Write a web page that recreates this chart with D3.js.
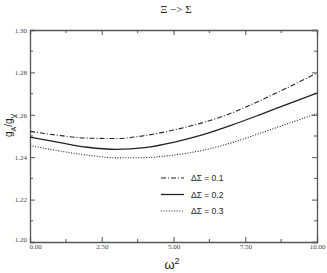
<!DOCTYPE html>
<html>
<head>
<meta charset="utf-8">
<script src="https://cdn.jsdelivr.net/npm/d3@7"></script>
<style>
  body { margin: 0; background: #fff; }
  svg { display: block; }
</style>
</head>
<body>
<div id="chart"></div>
<script>
// values
const omega2 = [0, 1, 2, 3, 4, 5, 6, 7, 8, 9, 10];
const dSigma01 = [1.2522, 1.2503, 1.2490, 1.2488, 1.2502, 1.2528, 1.2562, 1.2607, 1.2666, 1.2730, 1.2797];
const dSigma02 = [1.2495, 1.2470, 1.2447, 1.2437, 1.2445, 1.2470, 1.2505, 1.2550, 1.2600, 1.2652, 1.2703];
const dSigma03 = [1.2455, 1.2430, 1.2410, 1.2397, 1.2398, 1.2410, 1.2432, 1.2467, 1.2512, 1.2559, 1.2606];
const xTicks = [0, 2.5, 5, 7.5, 10];
const yTicks = [1.20, 1.22, 1.24, 1.26, 1.28, 1.30];
const legendLabels = ["ΔΣ = 0.1", "ΔΣ = 0.2", "ΔΣ = 0.3"];

const width = 327, height = 273;
const margin = {top: 30, right: 10, bottom: 31, left: 30};

const svg = d3.select("#chart").append("svg")
  .attr("width", width)
  .attr("height", height);

const x = d3.scaleLinear().domain([0, 10]).range([margin.left, width - margin.right]);
const y = d3.scaleLinear().domain([1.20, 1.30]).range([height - margin.bottom, margin.top]);

const axisColor = "#555";
const minorX = d3.range(1.25, 10, 2.5);
const minorY = d3.range(1.21, 1.30, 0.02);

// axes with inward ticks on all four sides
function styleAxis(g) {
  g.select(".domain").attr("stroke", axisColor).attr("stroke-width", 1.3);
  g.selectAll(".tick line").attr("stroke", axisColor);
  g.selectAll(".tick text")
    .attr("fill", "#444")
    .style("font-family", "'Liberation Serif', 'DejaVu Serif', serif")
    .style("font-size", "7px");
}

svg.append("g")
  .attr("transform", `translate(0,${y(1.20)})`)
  .call(d3.axisBottom(x).tickValues(xTicks).tickSize(-5).tickPadding(3).tickFormat(d3.format(".2f")))
  .call(styleAxis)
  .call(g => g.selectAll(".tick text").attr("dy", "0.5em"))
  .call(g => g.selectAll(".tick text").filter(d => d === 0).attr("text-anchor", "start").attr("x", -1));

svg.append("g")
  .attr("transform", `translate(0,${y(1.30)})`)
  .call(d3.axisTop(x).tickValues(xTicks).tickSize(-5).tickFormat(""))
  .call(styleAxis);

svg.append("g")
  .attr("transform", `translate(${x(0)},0)`)
  .call(d3.axisLeft(y).tickValues(yTicks).tickSize(-5).tickPadding(3).tickFormat(d3.format(".2f")))
  .call(styleAxis)
  .call(g => g.selectAll(".tick text").filter(d => d === 1.20).attr("dy", "-0.05em"));

svg.append("g")
  .attr("transform", `translate(${x(10)},0)`)
  .call(d3.axisRight(y).tickValues(yTicks).tickSize(-5).tickFormat(""))
  .call(styleAxis);

// minor ticks
[[y(1.20), -3], [y(1.30), 3]].forEach(([yy, len]) => {
  svg.append("g").selectAll("line").data(minorX).join("line")
    .attr("x1", d => x(d)).attr("x2", d => x(d))
    .attr("y1", yy).attr("y2", yy + len)
    .attr("stroke", axisColor);
});
[[x(0), 3], [x(10), -3]].forEach(([xx, len]) => {
  svg.append("g").selectAll("line").data(minorY).join("line")
    .attr("y1", d => y(d)).attr("y2", d => y(d))
    .attr("x1", xx).attr("x2", xx + len)
    .attr("stroke", axisColor);
});

// curves
const series = [
  {vals: dSigma01, dash: "5,2,1,2", w: 1.1},
  {vals: dSigma02, dash: null, w: 1.3},
  {vals: dSigma03, dash: "1,1.6", w: 1.1}
];

const line = d3.line()
  .x(d => x(d[0]))
  .y(d => y(d[1]))
  .curve(d3.curveMonotoneX);

series.forEach(s => {
  svg.append("path")
    .datum(omega2.map((w, i) => [w, s.vals[i]]))
    .attr("d", line)
    .attr("fill", "none")
    .attr("stroke", "#222")
    .attr("stroke-width", s.w)
    .attr("stroke-dasharray", s.dash);
});

// legend
const legend = svg.append("g").attr("transform", "translate(161,178)");
series.forEach((s, i) => {
  const row = legend.append("g").attr("transform", `translate(0,${i * 16.5})`);
  row.append("line")
    .attr("x1", 0).attr("x2", 23)
    .attr("stroke", "#222")
    .attr("stroke-width", s.w)
    .attr("stroke-dasharray", s.dash);
  row.append("text")
    .attr("x", 30).attr("y", 3)
    .style("font-family", "'Liberation Sans', Arial, sans-serif")
    .style("font-size", "8.5px")
    .attr("fill", "#222")
    .text(legendLabels[i]);
});

// title
svg.append("text")
  .attr("x", 176).attr("y", 13)
  .attr("text-anchor", "middle")
  .style("font-family", "'Liberation Serif', 'DejaVu Serif', serif")
  .style("font-size", "11px")
  .attr("fill", "#222")
  .text("Ξ −> Σ");

// y label
const yl = svg.append("text")
  .attr("transform", `translate(12,${y(1.255)}) rotate(-90)`)
  .attr("text-anchor", "middle")
  .style("font-family", "'Liberation Sans', Arial, sans-serif")
  .style("font-size", "10px")
  .attr("fill", "#222");
yl.append("tspan").text("g");
yl.append("tspan").attr("baseline-shift", "sub").style("font-size", "7px").text("A");
yl.append("tspan").text("/g");
yl.append("tspan").attr("baseline-shift", "sub").style("font-size", "7px").text("V");

// x label
const xl = svg.append("text")
  .attr("x", 172).attr("y", 269)
  .attr("text-anchor", "middle")
  .style("font-family", "'Liberation Sans', Arial, sans-serif")
  .style("font-size", "13px")
  .attr("fill", "#222");
xl.append("tspan").text("ω");
xl.append("tspan").attr("baseline-shift", "super").style("font-size", "9px").text("2");
</script>
</body>
</html>
